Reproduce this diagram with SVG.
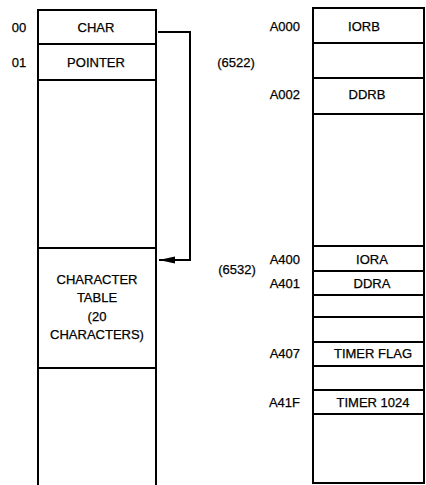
<svg xmlns="http://www.w3.org/2000/svg" width="426" height="485" viewBox="0 0 426 485">
<style>
.ln{stroke:#000;stroke-width:2;fill:none}
.dv{stroke:#000;stroke-width:1.8;fill:none}
text{font-family:"Liberation Sans",Arial,sans-serif;font-size:13px;fill:#000;stroke:#000;stroke-width:0.25}
.c{text-anchor:middle}
.r{text-anchor:end}
</style>
<defs>
<marker id="ah" markerWidth="18" markerHeight="10" refX="16" refY="5" orient="auto" markerUnits="userSpaceOnUse">
<path d="M0,1.5 L16,5 L0,8.5 Z" fill="#000"/>
</marker>
</defs>
<g id="left-memory">
<path class="ln" d="M38,485 V10 H156 V485"/>
<line class="dv" x1="38" y1="44" x2="156" y2="44"/>
<line class="dv" x1="38" y1="80" x2="156" y2="80"/>
<line class="dv" x1="38" y1="248" x2="156" y2="248"/>
<line class="dv" x1="38" y1="368" x2="156" y2="368"/>
</g>
<g id="char">
<text x="19" y="32" class="c">00</text>
<text x="96" y="32" class="c">CHAR</text>
</g>
<g id="pointer">
<text x="19" y="67" class="c">01</text>
<text x="96" y="67" class="c">POINTER</text>
</g>
<g id="character-table">
<text x="97" y="284" class="c">CHARACTER</text>
<text x="97" y="302" class="c">TABLE</text>
<text x="97" y="321" class="c">(20</text>
<text x="97" y="339" class="c">CHARACTERS)</text>
</g>
<g id="connectors">
<path class="ln" d="M158,32 H190 V260 H159" marker-end="url(#ah)"/>
</g>
<g id="right-memory">
<rect class="ln" x="313" y="8" width="111" height="475"/>
<line class="dv" x1="313" y1="43" x2="424" y2="43"/>
<line class="dv" x1="313" y1="78" x2="424" y2="78"/>
<line class="dv" x1="313" y1="114" x2="424" y2="114"/>
<line class="dv" x1="313" y1="246" x2="424" y2="246"/>
<line class="dv" x1="313" y1="271" x2="424" y2="271"/>
<line class="dv" x1="313" y1="295" x2="424" y2="295"/>
<line class="dv" x1="313" y1="317" x2="424" y2="317"/>
<line class="dv" x1="313" y1="342" x2="424" y2="342"/>
<line class="dv" x1="313" y1="366" x2="424" y2="366"/>
<line class="dv" x1="313" y1="390" x2="424" y2="390"/>
<line class="dv" x1="313" y1="414" x2="424" y2="414"/>
</g>
<g id="iorb">
<text x="300" y="31" class="r">A000</text>
<text x="364" y="31" class="c">IORB</text>
</g>
<g id="via-6522">
<text x="236" y="67" class="c">(6522)</text>
</g>
<g id="ddrb">
<text x="300" y="99" class="r">A002</text>
<text x="367" y="99" class="c">DDRB</text>
</g>
<g id="via-6532">
<text x="237" y="274" class="c">(6532)</text>
</g>
<g id="iora">
<text x="300" y="264" class="r">A400</text>
<text x="372" y="264" class="c">IORA</text>
</g>
<g id="ddra">
<text x="300" y="288" class="r">A401</text>
<text x="372" y="288" class="c">DDRA</text>
</g>
<g id="timer-flag">
<text x="300" y="358" class="r">A407</text>
<text x="373" y="358" class="c">TIMER FLAG</text>
</g>
<g id="timer-1024">
<text x="300" y="407" class="r">A41F</text>
<text x="373" y="407" class="c">TIMER 1024</text>
</g>
</svg>
